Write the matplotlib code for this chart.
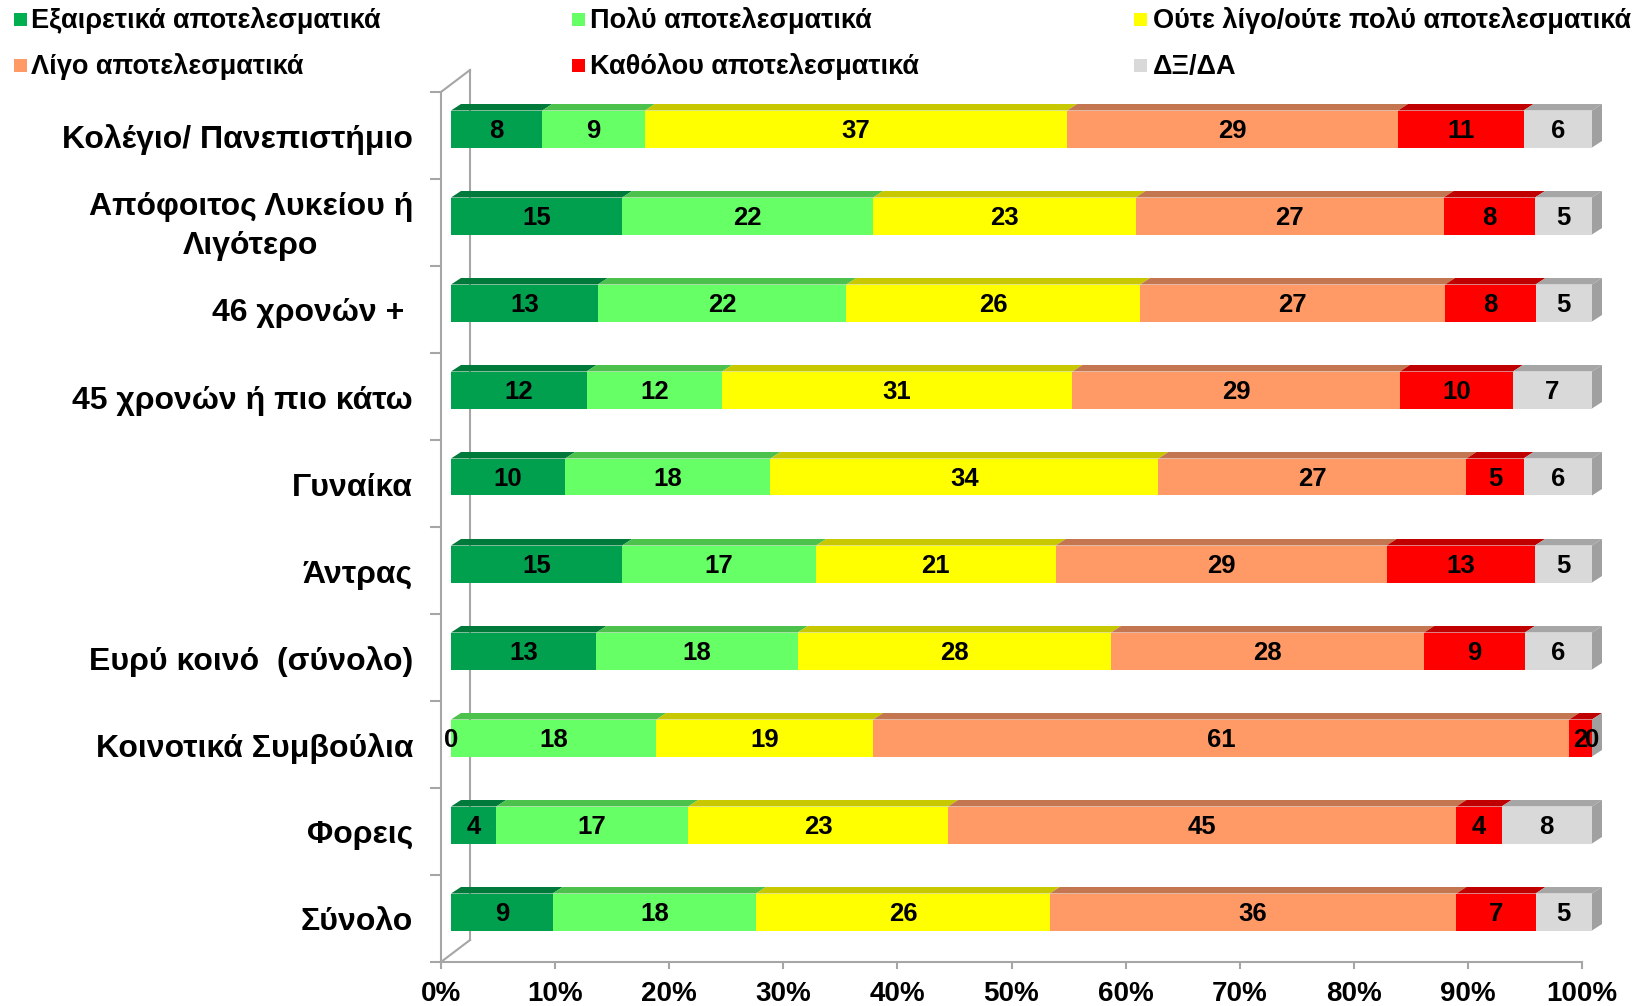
import numpy as np
import matplotlib.pyplot as plt
from matplotlib.patches import Polygon, Rectangle

plt.rcParams['font.family'] = ['Liberation Sans', 'DejaVu Sans']
plt.rcParams['font.weight'] = 'bold'

# categories, top to bottom as in the original
categories = ['Κολέγιο/ Πανεπιστήμιο', 'Απόφοιτος Λυκείου ή\nΛιγότερο', '46 χρονών + ',
              '45 χρονών ή πιο κάτω', 'Γυναίκα', 'Άντρας', 'Ευρύ κοινό  (σύνολο)',
              'Κοινοτικά Συμβούλια', 'Φορεις', 'Σύνολο']
series_names = ['Εξαιρετικά αποτελεσματικά', 'Πολύ αποτελεσματικά',
                'Ούτε λίγο/ούτε πολύ αποτελεσματικά', 'Λίγο αποτελεσματικά',
                'Καθόλου αποτελεσματικά', 'ΔΞ/ΔΑ']
exc = [8, 15, 13, 12, 10, 15, 13, 0, 4, 9]
very = [9, 22, 22, 12, 18, 17, 18, 18, 17, 18]
neither = [37, 23, 26, 31, 34, 21, 28, 19, 23, 26]
little = [29, 27, 27, 29, 27, 29, 28, 61, 45, 36]
not_at_all = [11, 8, 8, 10, 5, 13, 9, 2, 4, 7]
dk = [6, 5, 5, 7, 6, 5, 6, 0, 8, 5]

front = ['#00A04F', '#66FF66', '#FFFF00', '#FF9966', '#FF0000', '#D9D9D9']
top = ['#007A3A', '#4CC24C', '#C8C800', '#C47650', '#C00000', '#A6A6A6']
legend_cols = ['#00B050', '#66FF66', '#FFFF00', '#FF9966', '#FF0000', '#D9D9D9']

W, H = 1636, 1006
fig = plt.figure(figsize=(W / 100, H / 100), dpi=100)
# axes in pixels: x 441..1582, y 92..962
ax = fig.add_axes([441 / W, (H - 962) / H, 1141 / W, 870 / H])
ax.set_xlim(0, 100)
ax.set_ylim(-0.5, 9.5)

px = 100 / 1141   # data x per pixel
py = 1 / 87       # data y per pixel
xs, ys = 10 * px, 6.5 * py    # bar shift inside depth
dx, dy = 10 * px, 6.5 * py    # bar depth
bh = 37 * py

data = np.array([exc, very, neither, little, not_at_all, dk], dtype=float)
pct = data / data.sum(axis=0) * 100
n = len(categories)
ypos = np.arange(n)[::-1]

for j in range(n):
    y = ypos[j] + ys
    left = xs
    for k in range(6):
        w = pct[k, j]
        ax.barh(y, w, left=left, height=bh, color=front[k], edgecolor='none', clip_on=False, zorder=2)
        t = y + bh / 2
        ax.add_patch(Polygon([(left, t), (left + w, t), (left + w + dx, t + dy), (left + dx, t + dy)],
                             closed=True, facecolor=top[k], edgecolor='none', clip_on=False, zorder=2))
        ax.text(left + w / 2, y - 2 * py, f'{int(data[k, j])}', ha='center', va='center',
                fontsize=18.5, fontweight='bold', color='black', clip_on=False, zorder=3)
        left += w
    b = y - bh / 2
    t = y + bh / 2
    ax.add_patch(Polygon([(left, b), (left, t), (left + dx, t + dy), (left + dx, b + dy)],
                         closed=True, facecolor='#A0A0A0', edgecolor='none', clip_on=False, zorder=2))

# walls
gc = '#A6A6A6'
wx, wy = 29 * px, 22 * py
ax.plot([0, wx], [-0.5, -0.5 + wy], color=gc, lw=1.5, clip_on=False, zorder=1)
ax.plot([wx, wx], [-0.5 + wy, 9.5 + wy], color=gc, lw=1.5, clip_on=False, zorder=1)
ax.plot([0, wx], [9.5, 9.5 + wy], color=gc, lw=1.5, clip_on=False, zorder=1)

for s in ['top', 'right']:
    ax.spines[s].set_visible(False)
for s in ['left', 'bottom']:
    ax.spines[s].set_color(gc)
    ax.spines[s].set_linewidth(1.5)

ax.set_xticks(np.arange(0, 101, 10))
ax.set_xticklabels([f'{v}%' for v in range(0, 101, 10)], fontsize=20, fontweight='bold')
ax.set_yticks(np.arange(-0.5, 10, 1))
ax.set_yticklabels([])
ax.tick_params(axis='x', length=5, width=1.5, color=gc, pad=9)
ax.tick_params(axis='y', length=8, width=1.5, color=gc)

for j, c in enumerate(categories):
    ax.text(-0.0245, ypos[j] - 4 * py, c, transform=ax.get_yaxis_transform(), ha='right', va='center',
            multialignment='center', fontsize=23, fontweight='bold', linespacing=1.35)

# legend
col_sq = [14, 572, 1134]
col_tx = [31, 590, 1153]
rows = [21, 67]
for k, name in enumerate(series_names):
    r, c = divmod(k, 3)
    yy = rows[r]
    fig.patches.append(Rectangle((col_sq[c] / W, 1 - (yy + 5) / H), 13 / W, 13 / H,
                                 transform=fig.transFigure, facecolor=legend_cols[k], edgecolor='none'))
    fig.text(col_tx[c] / W, 1 - yy / H, name, ha='left', va='center', fontsize=19.5, fontweight='bold')

fig.savefig('out.png', dpi=100)
